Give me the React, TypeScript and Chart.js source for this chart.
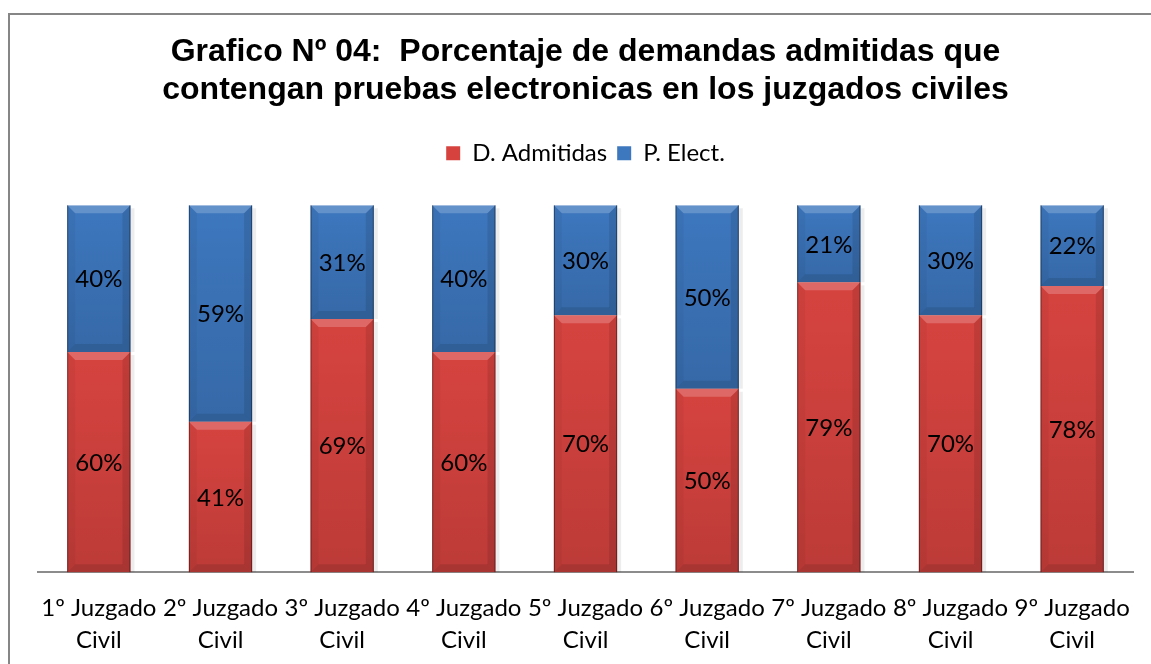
import React, { useEffect, useRef } from "react";
import { Chart, registerables } from "chart.js";

Chart.register(...registerables);

const titleLines = [
  "Grafico Nº 04:  Porcentaje de demandas admitidas que",
  "contengan pruebas electronicas en los juzgados civiles",
];
const categories = [
  ["1º Juzgado", "Civil"],
  ["2º Juzgado", "Civil"],
  ["3º Juzgado", "Civil"],
  ["4º Juzgado", "Civil"],
  ["5º Juzgado", "Civil"],
  ["6º Juzgado", "Civil"],
  ["7º Juzgado", "Civil"],
  ["8º Juzgado", "Civil"],
  ["9º Juzgado", "Civil"],
];
const admitidas = [60, 41, 69, 60, 70, 50, 79, 70, 78];
const electronicas = [40, 59, 31, 40, 30, 50, 21, 30, 22];
const seriesNames = ["D. Admitidas", "P. Elect."];

const RED = "#D6433F";
const BLUE = "#3D77BE";
const LABEL_FONT = "Lato, 'Open Sans', sans-serif";

const framePlugin = {
  id: "frame",
  beforeDraw(chart: any) {
    const ctx = chart.ctx;
    ctx.save();
    ctx.fillStyle = "#ffffff";
    ctx.fillRect(0, 0, chart.width, chart.height);
    ctx.strokeStyle = "#868686";
    ctx.lineWidth = 2;
    ctx.strokeRect(9, 14, chart.width + 40, chart.height + 40);
    ctx.restore();
  },
};

const barRect = (el: any) => {
  const p = el.getProps(["x", "y", "base", "width"], true);
  return {
    x: p.x,
    l: p.x - p.width / 2,
    r: p.x + p.width / 2,
    t: Math.min(p.y, p.base),
    b: Math.max(p.y, p.base),
    w: p.width,
  };
};

const bevelPlugin = {
  id: "bevel",
  beforeDatasetsDraw(chart: any) {
    const ctx = chart.ctx;
    ctx.save();
    chart.data.datasets.forEach((ds: any, di: number) => {
      chart.getDatasetMeta(di).data.forEach((el: any) => {
        const g = barRect(el);
        ctx.fillStyle = "rgba(0,0,0,0.07)";
        ctx.fillRect(g.r, g.t + 3, 4, g.b - g.t - 3);
      });
    });
    ctx.restore();
  },
  afterDatasetsDraw(chart: any) {
    const ctx = chart.ctx;
    ctx.save();
    chart.data.datasets.forEach((ds: any, di: number) => {
      const meta = chart.getDatasetMeta(di);
      meta.data.forEach((el: any, i: number) => {
        const { x, l, r, t, b, w } = barRect(el);
        const s = 8;
        const poly = (pts: number[][], fill: any) => {
          ctx.beginPath();
          ctx.moveTo(pts[0][0], pts[0][1]);
          for (let k = 1; k < pts.length; k++) ctx.lineTo(pts[k][0], pts[k][1]);
          ctx.closePath();
          ctx.fillStyle = fill;
          ctx.fill();
        };
        // vertical shading
        const grad = ctx.createLinearGradient(0, t, 0, b);
        grad.addColorStop(0, "rgba(0,0,0,0)");
        grad.addColorStop(1, "rgba(0,0,0,0.12)");
        ctx.fillStyle = grad;
        ctx.fillRect(l, t, w, b - t);
        // top bevel (light)
        poly([[l, t], [r, t], [r - s, t + s], [l + s, t + s]], "rgba(255,255,255,0.2)");
        // left bevel
        poly([[l, t], [l + s, t + s], [l + s, b - s], [l, b]], "rgba(0,0,0,0.04)");
        // right bevel
        poly([[r, t], [r - s, t + s], [r - s, b - s], [r, b]], "rgba(0,0,0,0.1)");
        // bottom bevel
        poly([[l, b], [l + s, b - s], [r - s, b - s], [r, b]], "rgba(0,0,0,0.1)");
        // outline
        ctx.strokeStyle = "rgba(0,0,0,0.4)";
        ctx.lineWidth = 1;
        ctx.beginPath();
        ctx.moveTo(l + 0.5, t);
        ctx.lineTo(l + 0.5, b);
        ctx.moveTo(r - 0.5, t);
        ctx.lineTo(r - 0.5, b);
        ctx.stroke();
        // label
        const v = ds.data[i];
        ctx.fillStyle = "#000000";
        ctx.font = `24px ${LABEL_FONT}`;
        ctx.textAlign = "center";
        ctx.textBaseline = "middle";
        ctx.fillText(`${v}%`, x, (t + b) / 2 + 1);
      });
    });
    ctx.restore();
  },
};

export default function App() {
  const ref = useRef<HTMLCanvasElement | null>(null);
  useEffect(() => {
    if (!ref.current) return;
    const chart = new Chart(ref.current, {
      type: "bar",
      data: {
        labels: categories,
        datasets: [
          { label: seriesNames[0], data: admitidas, backgroundColor: RED, borderWidth: 0 },
          { label: seriesNames[1], data: electronicas, backgroundColor: BLUE, borderWidth: 0 },
        ],
      },
      options: {
        responsive: false,
        animation: false,
        layout: { padding: { left: 38, right: 18, top: 0, bottom: -12 } },
        datasets: { bar: { categoryPercentage: 1, barPercentage: 0.52 } },
        plugins: {
          tooltip: { enabled: false },
          title: {
            display: true,
            text: titleLines,
            color: "#000000",
            font: { family: "'Liberation Sans', Arial, sans-serif", size: 32, weight: "bold", lineHeight: 1.16 },
            padding: { top: 34, bottom: 23 },
          },
          legend: {
            display: true,
            labels: {
              color: "#000000",
              font: { family: LABEL_FONT, size: 24 },
              boxWidth: 14,
              boxHeight: 14,
              padding: 10,
            },
          },
          subtitle: {
            display: true,
            text: "",
            weight: 500,
            font: { size: 1, lineHeight: 1 },
            padding: { top: 29, bottom: 0 },
          },
        },
        scales: {
          x: {
            stacked: true,
            grid: { display: false, drawTicks: false },
            border: { display: true, color: "#8c8c8c", width: 2 },
            ticks: {
              color: "#000000",
              font: { family: LABEL_FONT, size: 24, lineHeight: 1.33 },
              padding: 20,
              maxRotation: 0,
              autoSkip: false,
            },
          },
          y: {
            stacked: true,
            display: false,
            min: 0,
            max: 100,
          },
        },
      },
      plugins: [framePlugin, bevelPlugin],
    });
    return () => chart.destroy();
  }, []);
  return (
    <canvas
      ref={ref}
      width={1151}
      height={664}
      style={{ position: "fixed", left: 0, top: 0, width: 1151, height: 664 }}
    />
  );
}
